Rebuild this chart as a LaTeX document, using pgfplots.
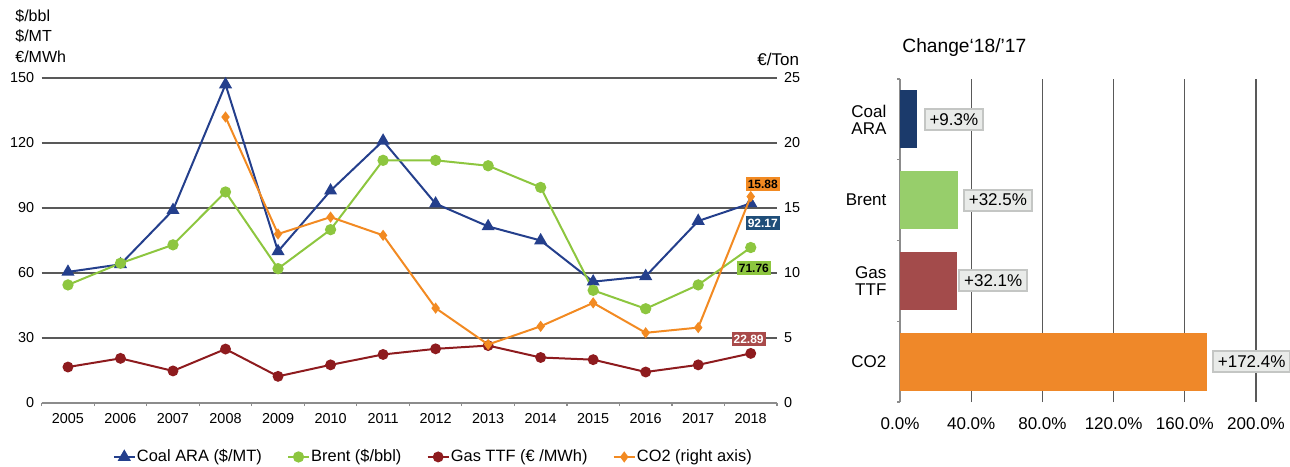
\documentclass[border=0pt]{standalone}
\usepackage{fontspec}
\setmainfont{Liberation Sans}
\usepackage{pgfplots}
\pgfplotsset{compat=1.18}

\definecolor{coal}{HTML}{243F8C}
\definecolor{brent}{HTML}{8DC63F}
\definecolor{gas}{HTML}{8E1B1E}
\definecolor{cotwo}{HTML}{F28A22}
\definecolor{coalbar}{HTML}{1B3A6B}
\definecolor{brentbar}{HTML}{97CE6B}
\definecolor{gasbar}{HTML}{A34B4B}
\definecolor{cotwobar}{HTML}{EF8829}
\definecolor{coaltag}{HTML}{1F4E79}
\definecolor{gastag}{HTML}{A94A4A}
\definecolor{gridc}{HTML}{595959}
\definecolor{axc}{HTML}{8C8C8C}
\definecolor{tagfill}{HTML}{E9EBE9}
\definecolor{tagdraw}{HTML}{C4C6C4}

\newcommand{\fs}[1]{\fontsize{#1}{#1}\selectfont}

\begin{document}
\begin{tikzpicture}
\useasboundingbox (0,0) rectangle (645pt,233pt);

% unit labels
\node[anchor=west, inner sep=0pt, font=\fs{8}] at (7.5pt,225pt) {\$/bbl};
\node[anchor=west, inner sep=0pt, font=\fs{8}] at (7.5pt,215pt) {\$/MT};
\node[anchor=west, inner sep=0pt, font=\fs{8}] at (7.5pt,204.5pt) {€/MWh};
\node[anchor=west, inner sep=0pt, font=\fs{8.5}] at (378.5pt,203.5pt) {€/Ton};
\node[anchor=west, inner sep=0pt, font=\fs{9.6}] at (451pt,209pt) {Change‘18/’17};

% left chart, left axis
\begin{axis}[
  at={(20.85pt,31.5pt)}, anchor=south west,
  scale only axis, width=367.65pt, height=162.5pt,
  xmin=2004.5, xmax=2018.5, ymin=0, ymax=150,
  axis x line*=bottom, axis y line*=left,
  x axis line style={axc, line width=0.6pt},
  y axis line style={draw=none},
  xtick={2005,...,2018},
  minor xtick={2004.5,2005.5,...,2018.5},
  ytick={0,30,...,150},
  major tick style={draw=none},
  minor x tick style={axc, line width=0.6pt},
  minor tick length=1.5pt, tick align=outside,
  ymajorgrids, grid style={gridc, line width=0.6pt},
  tick label style={font=\fs{7.2}, /pgf/number format/assume math mode=true},
  xticklabel style={/pgf/number format/1000 sep={}, yshift=2.5pt},
  yticklabel style={xshift=4pt},
  clip=false,
  legend style={draw=none, fill=none, at={(0.532,-0.166)}, anchor=center,
    legend columns=4, font=\fs{8.2}, inner sep=0pt,
    /tikz/every even column/.append style={column sep=12pt},
    nodes={inner sep=0.6pt}},
  legend image code/.code={
    \draw[mark repeat=2,mark phase=2] plot coordinates {(0pt,0pt)(5.25pt,0pt)(10.5pt,0pt)};}
]
\addplot[coal, line width=1pt, mark=triangle*, mark size=2.8pt, mark options={fill=coal}]
  coordinates {(2005,60.5)(2006,64)(2007,89)(2008,147)(2009,70)(2010,98)(2011,121)
               (2012,92)(2013,81.5)(2014,75)(2015,56)(2016,58.5)(2017,84)(2018,92.17)};
\addplot[brent, line width=1pt, mark=*, mark size=2.3pt, mark options={fill=brent}]
  coordinates {(2005,54.5)(2006,64.5)(2007,73)(2008,97.4)(2009,62)(2010,80)(2011,112)
               (2012,112)(2013,109.5)(2014,99.5)(2015,52)(2016,43.5)(2017,54.5)(2018,71.76)};
\addplot[gas, line width=1pt, mark=*, mark size=2.2pt, mark options={fill=gas}]
  coordinates {(2005,16.6)(2006,20.6)(2007,14.8)(2008,24.9)(2009,12.3)(2010,17.6)(2011,22.4)
               (2012,25)(2013,26.5)(2014,21)(2015,20)(2016,14.3)(2017,17.6)(2018,22.89)};
\addlegendimage{cotwo, line width=1pt, mark=diamond*, mark size=2pt, mark options={fill=cotwo}}
\legend{Coal ARA (\$/MT), Brent (\$/bbl), Gas TTF (€ /MWh), CO2 (right axis)}
\end{axis}

% left chart, right axis (CO2)
\begin{axis}[
  at={(20.85pt,31.5pt)}, anchor=south west,
  scale only axis, width=367.65pt, height=162.5pt,
  xmin=2004.5, xmax=2018.5, ymin=0, ymax=25,
  axis x line=none, axis y line*=right,
  y axis line style={draw=none},
  ytick={0,5,...,25},
  major tick style={draw=none},
  tick label style={font=\fs{7.2}, /pgf/number format/assume math mode=true},
  yticklabel style={xshift=0pt},
  clip=false
]
\addplot[cotwo, line width=1pt, mark=diamond*, mark size=2pt, mark options={fill=cotwo}]
  coordinates {(2008,22)(2009,13)(2010,14.3)(2011,12.9)(2012,7.3)(2013,4.5)(2014,5.9)
               (2015,7.7)(2016,5.4)(2017,5.8)(2018,15.88)};
\node[fill=cotwo, text=black, font=\fs{6}\bfseries, inner xsep=1pt, inner ysep=1.3pt]
  at (axis cs:2018.23,16.85) {15.88};
\node[fill=coaltag, text=white, font=\fs{6}\bfseries, inner xsep=1pt, inner ysep=1.3pt]
  at (axis cs:2018.23,13.85) {92.17};
\node[fill=brent, text=black, font=\fs{6}\bfseries, inner xsep=1pt, inner ysep=1.3pt]
  at (axis cs:2018.06,10.38) {71.76};
\node[fill=gastag, text=white, font=\fs{6}\bfseries, inner xsep=1pt, inner ysep=1.3pt]
  at (axis cs:2017.96,4.92) {22.89};
\end{axis}

% right chart: change 18/17
\begin{axis}[
  at={(450pt,32pt)}, anchor=south west,
  scale only axis, width=178pt, height=161.5pt,
  xmin=0, xmax=200, ymin=-0.5, ymax=3.5,
  xbar, bar width=29pt,
  axis x line*=bottom, axis y line*=left,
  x axis line style={draw=none},
  y axis line style={axc, line width=0.6pt},
  xtick={0,40,...,200},
  xticklabels={0.0\%,40.0\%,80.0\%,120.0\%,160.0\%,200.0\%},
  ytick={0,1,2,3},
  yticklabels={CO2,{Gas\\TTF},Brent,{Coal\\ARA}},
  minor ytick={-0.5,0.5,...,3.5},
  major tick style={draw=none},
  minor y tick style={axc, line width=0.6pt},
  minor tick length=1.5pt, tick align=outside,
  xmajorgrids, grid style={gridc, line width=0.6pt},
  tick label style={font=\fs{8.5}},
  xticklabel style={yshift=0pt},
  yticklabel style={align=center, xshift=1pt},
  clip=false
]
\addplot[fill=coalbar, draw=none, bar shift=0pt] coordinates {(9.3,3)};
\addplot[fill=brentbar, draw=none, bar shift=0pt] coordinates {(32.5,2)};
\addplot[fill=gasbar, draw=none, bar shift=0pt] coordinates {(32.1,1)};
\addplot[fill=cotwobar, draw=none, bar shift=0pt] coordinates {(172.4,0)};
\tikzset{tag/.style={anchor=west, fill=tagfill, draw=tagdraw, line width=1pt,
  font=\fs{8.5}, inner xsep=2.5pt, inner ysep=2.2pt}}
\node[tag, xshift=3.5pt] at (axis cs:9.3,3) {+9.3\%};
\node[tag, xshift=2.5pt] at (axis cs:32.5,2) {+32.5\%};
\node[tag, xshift=0.5pt] at (axis cs:32.1,1) {+32.1\%};
\node[tag, xshift=2.5pt] at (axis cs:172.4,0) {+172.4\%};
\end{axis}
\end{tikzpicture}
\end{document}
